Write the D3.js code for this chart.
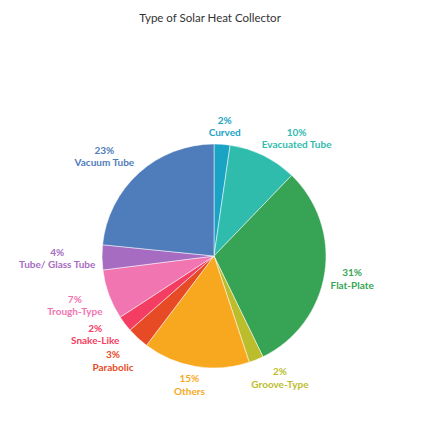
<!doctype html>
<html>
    <head>
        <meta charset="utf-8">
        <title>Type of Solar Heat Collector</title>
        <script src="https://d3js.org/d3.v7.min.js"></script>
        <style type="text/css">
            body { margin:0; background:#fff; }
            text { font-family:Lato, "Open Sans", sans-serif; }
            .title { font-size:11.5px; fill:#333; }
            .lbl { font-size:10px; font-weight:700; }
        </style>
    </head>
    <body>
        <svg></svg>
        <script type="text/javascript">

            var w = 434,
                h = 436,
                radius = 112;

            var categories = ['Curved', 'Evacuated Tube', 'Flat-Plate', 'Groove-Type', 'Others',
                'Parabolic', 'Snake-Like', 'Trough-Type', 'Tube/ Glass Tube', 'Vacuum Tube'];
            var shares = [2.3, 9.9, 30.6, 2.1, 15.4, 3.2, 2.3, 7.2, 3.6, 23.4];
            var palette = ['#1ba3c6', '#30bcad', '#37a455', '#bcbd2c', '#f8a81e',
                '#e64b26', '#f43d62', '#f075b0', '#a66cc2', '#4f7cba'];

            var dataset = categories.map(function(c, i) {
                return { name: c, value: shares[i] };
            });

            var colors = d3.scaleOrdinal()
                .domain(categories)
                .range(palette);

            var svg = d3.select('svg')
                .attr('width', w)
                .attr('height', h);

            svg.append('text')
                .attr('class', 'title')
                .attr('x', 210)
                .attr('y', 22)
                .attr('text-anchor', 'middle')
                .text('Type of Solar Heat Collector');

            var pie = d3.pie()
                .sort(null)
                .value(function(d) { return d.value; });

            var arc = d3.arc()
                .innerRadius(0)
                .outerRadius(radius);

            var arcs = pie(dataset);

            var g = svg.append('g')
                .attr('transform', 'translate(214,256)');

            g.selectAll('path')
                .data(arcs)
                .enter()
                .append('path')
                .attr('d', arc)
                .attr('fill', function(d) { return colors(d.data.name); })
                .attr('stroke', '#fff')
                .attr('stroke-width', 0.5);

            var labels = g.selectAll('g.label')
                .data(arcs)
                .enter()
                .append('g')
                .attr('class', 'label');

            labels.append('text')
                .attr('class', 'lbl')
                .attr('text-anchor', 'middle')
                .attr('y', -2.5)
                .attr('fill', function(d) { return colors(d.data.name); })
                .text(function(d) { return Math.round(d.data.value) + '%'; });

            labels.append('text')
                .attr('class', 'lbl')
                .attr('text-anchor', 'middle')
                .attr('y', 10)
                .attr('fill', function(d) { return colors(d.data.name); })
                .text(function(d) { return d.data.name; });

            function clamp(v) { return Math.max(-1, Math.min(1, v)); }

            // first guess: box just outside the rim, leaning away from the pie
            var boxes = [];
            labels.each(function(d) {
                var b = this.getBBox();
                var a = (d.startAngle + d.endAngle) / 2;
                var s = Math.sin(a), c = Math.cos(a);
                var rr = radius + 6;
                boxes.push({
                    node: this, b: b,
                    cx: s * rr + clamp(2 * s) * b.width / 2,
                    cy: -c * rr - clamp(2 * c) * b.height / 2
                });
            });

            // push overlapping labels apart vertically
            for (var it = 0; it < 30; it++) {
                for (var i = 0; i < boxes.length; i++) {
                    for (var j = i + 1; j < boxes.length; j++) {
                        var p = boxes[i], q = boxes[j];
                        var ox = (p.b.width + q.b.width) / 2 - Math.abs(p.cx - q.cx);
                        var oy = (p.b.height + q.b.height) / 2 + 2 - Math.abs(p.cy - q.cy);
                        if (ox > 0 && oy > 0) {
                            var dir = p.cy < q.cy ? -1 : 1;
                            p.cy += dir * oy / 2;
                            q.cy -= dir * oy / 2;
                        }
                    }
                }
            }

            boxes.forEach(function(o) {
                var tx = o.cx - (o.b.x + o.b.width / 2);
                var ty = o.cy - (o.b.y + o.b.height / 2);
                d3.select(o.node).attr('transform', 'translate(' + tx + ',' + ty + ')');
            });
        </script>
    </body>
</html>
